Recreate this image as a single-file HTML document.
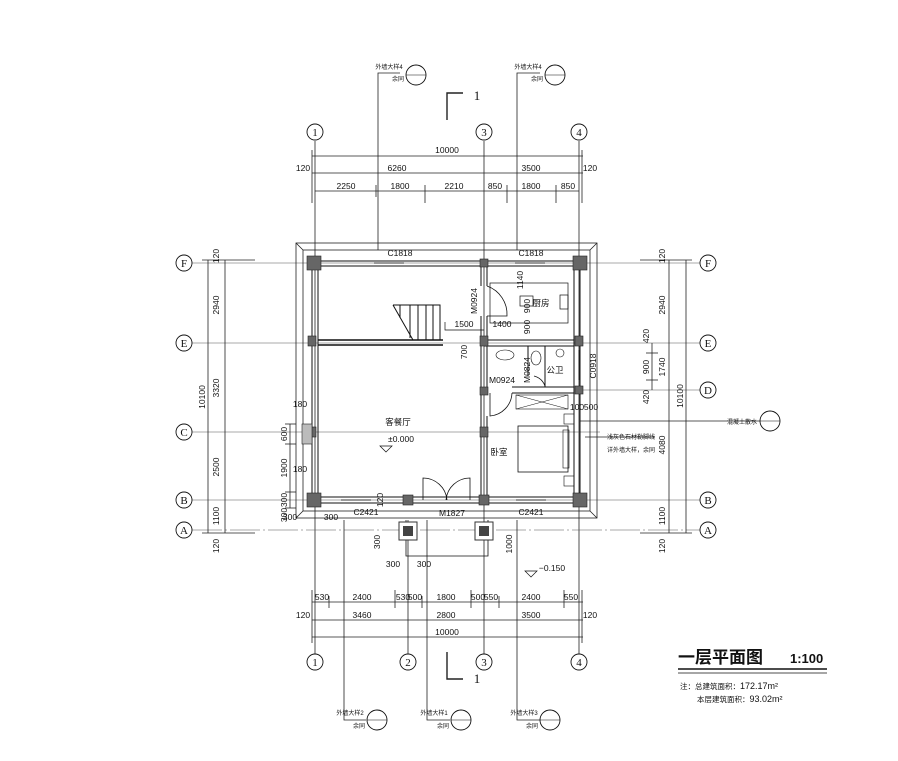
<!DOCTYPE html>
<html><head><meta charset="utf-8"><style>
html,body{margin:0;padding:0;background:#fff;}
svg{display:block;}
text{font-family:"Liberation Sans","Noto Sans CJK SC",sans-serif;fill:#111;}
</style></head><body>
<svg width="898" height="761" viewBox="0 0 898 761" xmlns="http://www.w3.org/2000/svg">
<g stroke="#222" stroke-width="0.8" fill="none">
<!-- vertical grid lines -->
<line x1="315" y1="141" x2="315" y2="654"/>
<line x1="484" y1="141" x2="484" y2="654"/>
<line x1="579" y1="141" x2="579" y2="654"/>
<line x1="408" y1="520" x2="408" y2="654"/>
<!-- horizontal grid lines -->
<line x1="192" y1="263" x2="700" y2="263" stroke="#555" stroke-width="0.6"/>
<line x1="192" y1="343" x2="700" y2="343" stroke="#555" stroke-width="0.6"/>
<line x1="192" y1="432" x2="600" y2="432" stroke="#555" stroke-width="0.6"/>
<line x1="192" y1="500" x2="700" y2="500" stroke="#555" stroke-width="0.6"/>
<line x1="192" y1="530" x2="700" y2="530" stroke="#555" stroke-width="0.6" stroke-dasharray="30 3 2 3"/>
<line x1="580" y1="390" x2="700" y2="390" stroke="#555" stroke-width="0.6"/>
<!-- leader lines top -->
<polyline points="378,250 378,73 400,73"/>
<polyline points="517,250 517,73 540,73"/>
<!-- leader lines bottom -->
<polyline points="344,520 344,720 366,720"/>
<polyline points="427,520 427,720 450,720"/>
<polyline points="517,520 517,720 540,720"/>
<!-- section marks -->
<polyline points="447,120 447,93 463,93" stroke-width="1.4"/>
<polyline points="447,652 447,679 463,679" stroke-width="1.4"/>
<!-- top dims -->
<line x1="312" y1="156" x2="583" y2="156"/>
<line x1="312" y1="173" x2="583" y2="173"/>
<line x1="315" y1="191" x2="579" y2="191"/>
<line x1="312" y1="150" x2="312" y2="203"/><line x1="582" y1="150" x2="582" y2="203"/>
<line x1="376" y1="185" x2="376" y2="197"/><line x1="425" y1="185" x2="425" y2="203"/>
<line x1="507" y1="185" x2="507" y2="203"/><line x1="556" y1="185" x2="556" y2="203"/>
<!-- bottom dims -->
<line x1="312" y1="602" x2="583" y2="602"/>
<line x1="312" y1="620" x2="583" y2="620"/>
<line x1="312" y1="637" x2="583" y2="637"/>
<line x1="312" y1="590" x2="312" y2="643"/><line x1="582" y1="590" x2="582" y2="643"/>
<line x1="329" y1="596" x2="329" y2="608"/><line x1="395" y1="590" x2="395" y2="608"/>
<line x1="422" y1="596" x2="422" y2="608"/><line x1="471" y1="590" x2="471" y2="608"/>
<line x1="499" y1="596" x2="499" y2="608"/><line x1="564" y1="590" x2="564" y2="608"/>
<!-- left dims -->
<line x1="208" y1="260" x2="208" y2="533"/>
<line x1="225" y1="260" x2="225" y2="533"/>
<line x1="202" y1="260" x2="255" y2="260"/><line x1="202" y1="533" x2="255" y2="533"/>
<line x1="290" y1="424" x2="290" y2="508"/>
<line x1="285" y1="424" x2="296" y2="424"/><line x1="285" y1="444" x2="296" y2="444"/>
<line x1="285" y1="492" x2="296" y2="492"/><line x1="285" y1="508" x2="296" y2="508"/>
<!-- right dims -->
<line x1="669" y1="260" x2="669" y2="533"/>
<line x1="686" y1="260" x2="686" y2="533"/>
<line x1="652" y1="343" x2="652" y2="390"/>
<line x1="640" y1="260" x2="692" y2="260"/><line x1="640" y1="533" x2="692" y2="533"/>
<line x1="646" y1="353" x2="658" y2="353"/><line x1="646" y1="380" x2="658" y2="380"/>
<line x1="580" y1="421" x2="775" y2="421"/>
<line x1="585" y1="437" x2="655" y2="437"/>
<!-- outer ornamental border -->
<rect x="296" y="243" width="301" height="275"/>
<rect x="303" y="250" width="287" height="261"/>
<line x1="296" y1="243" x2="303" y2="250"/><line x1="597" y1="243" x2="590" y2="250"/>
<line x1="296" y1="518" x2="303" y2="511"/><line x1="597" y1="518" x2="590" y2="511"/>
</g>
<!-- walls -->
<g stroke="#111" stroke-width="1" fill="none">
<rect x="312" y="261" width="268" height="242"/>
<rect x="318" y="266" width="256" height="231"/>
<line x1="318" y1="340" x2="443" y2="340" stroke-width="1.6"/>
<line x1="318" y1="345" x2="443" y2="345" stroke-width="1.6"/>
<line x1="481" y1="266" x2="481" y2="286"/><line x1="487" y1="266" x2="487" y2="286"/>
<line x1="481" y1="316" x2="481" y2="497"/><line x1="487" y1="316" x2="487" y2="390"/>
<line x1="487" y1="416" x2="487" y2="497"/>
<line x1="484" y1="340" x2="574" y2="340"/><line x1="484" y1="346" x2="574" y2="346"/>
<line x1="512" y1="387" x2="574" y2="387"/><line x1="512" y1="393" x2="574" y2="393"/>
<line x1="528" y1="346" x2="528" y2="376"/><line x1="545" y1="346" x2="545" y2="387"/>
<!-- stair -->
<polyline points="393,305 440,305 440,340"/>
<polyline points="393,305 413,340"/>
<line x1="400" y1="305" x2="400" y2="318"/><line x1="410" y1="305" x2="410" y2="338"/>
<line x1="418" y1="305" x2="418" y2="340"/><line x1="426" y1="305" x2="426" y2="340"/>
<line x1="433" y1="305" x2="433" y2="340"/>
<polyline points="445,322 445,330 484,330" stroke-width="0.7"/>
<!-- kitchen counter -->
<rect x="490" y="283" width="78" height="40" stroke-width="0.7"/>
<rect x="520" y="296" width="13" height="10" stroke-width="0.7"/>
<rect x="560" y="295" width="8" height="14" stroke-width="0.7"/>
<!-- door arcs -->
<path d="M487 286 A30 30 0 0 1 507 316 L487 316" stroke-width="0.8"/>
<path d="M490 393 L490 416 A24 24 0 0 0 512 393" stroke-width="0.8"/>
<path d="M534 376 A16 16 0 0 1 545 386" stroke-width="0.8"/>
<!-- bathroom fixtures -->
<ellipse cx="505" cy="355" rx="9" ry="5" stroke-width="0.6"/>
<ellipse cx="536" cy="358" rx="5" ry="7" stroke-width="0.6"/>
<circle cx="560" cy="353" r="4" stroke-width="0.6"/>
<!-- wardrobe -->
<rect x="516" y="395" width="52" height="14" stroke-width="0.6"/>
<line x1="516" y1="395" x2="568" y2="409" stroke-width="0.5"/><line x1="516" y1="409" x2="568" y2="395" stroke-width="0.5"/>
<!-- bed -->
<rect x="518" y="426" width="50" height="46" stroke-width="0.8"/>
<rect x="563" y="430" width="6" height="38" stroke-width="0.6"/>
<rect x="564" y="414" width="10" height="10" stroke-width="0.6"/>
<rect x="564" y="476" width="10" height="10" stroke-width="0.6"/>
<!-- entrance door -->
<path d="M423 500 L423 478 A24 24 0 0 1 447 500" stroke-width="0.8"/>
<path d="M470 500 L470 478 A24 24 0 0 0 446 500" stroke-width="0.8"/>
<!-- porch -->
<polyline points="406,520 406,556 488,556 488,520" stroke-width="0.8"/>
<!-- windows -->
<g stroke-width="0.7">
<line x1="374" y1="263" x2="404" y2="263"/><line x1="515" y1="263" x2="545" y2="263"/>
<line x1="341" y1="500" x2="371" y2="500"/><line x1="516" y1="500" x2="546" y2="500"/>
<line x1="579" y1="350" x2="579" y2="380"/>
</g>
</g>
<!-- columns -->
<g fill="#666" stroke="#222" stroke-width="0.6">
<rect x="307" y="256" width="14" height="14"/><rect x="573" y="256" width="14" height="14"/>
<rect x="307" y="493" width="14" height="14"/><rect x="573" y="493" width="14" height="14"/>
<rect x="308" y="336" width="8" height="10"/><rect x="480" y="336" width="8" height="10"/>
<rect x="575" y="336" width="8" height="10"/><rect x="308" y="427" width="8" height="10"/>
<rect x="480" y="259" width="8" height="8"/><rect x="480" y="387" width="8" height="8"/>
<rect x="575" y="386" width="8" height="8"/><rect x="480" y="427" width="8" height="10"/>
<rect x="403" y="495" width="10" height="10"/><rect x="479" y="495" width="10" height="10"/>
<rect x="302" y="424" width="10" height="20" fill="#bbb"/>
</g>
<g fill="#fff" stroke="#333" stroke-width="1">
<rect x="399" y="522" width="18" height="18"/><rect x="475" y="522" width="18" height="18"/>
</g>
<g fill="#444"><rect x="403" y="526" width="10" height="10"/><rect x="479" y="526" width="10" height="10"/></g>
<!-- axis circles -->
<g fill="#fff" stroke="#111" stroke-width="0.9">
<circle cx="315" cy="132" r="8"/><circle cx="484" cy="132" r="8"/><circle cx="579" cy="132" r="8"/>
<circle cx="315" cy="662" r="8"/><circle cx="408" cy="662" r="8"/><circle cx="484" cy="662" r="8"/><circle cx="579" cy="662" r="8"/>
<circle cx="184" cy="263" r="8"/><circle cx="184" cy="343" r="8"/><circle cx="184" cy="432" r="8"/><circle cx="184" cy="500" r="8"/><circle cx="184" cy="530" r="8"/>
<circle cx="708" cy="263" r="8"/><circle cx="708" cy="343" r="8"/><circle cx="708" cy="390" r="8"/><circle cx="708" cy="500" r="8"/><circle cx="708" cy="530" r="8"/>
<circle cx="555" cy="75" r="10"/><circle cx="416" cy="75" r="10"/>
<circle cx="377" cy="720" r="10"/><circle cx="461" cy="720" r="10"/><circle cx="550" cy="720" r="10"/>
<circle cx="770" cy="421" r="10"/>
</g>
<g stroke="#111" stroke-width="0.6">
<line x1="406" y1="75" x2="426" y2="75"/><line x1="545" y1="75" x2="565" y2="75"/>
<line x1="367" y1="720" x2="387" y2="720"/><line x1="451" y1="720" x2="471" y2="720"/><line x1="540" y1="720" x2="560" y2="720"/>
<line x1="760" y1="421" x2="780" y2="421"/>
</g>
<g font-size="11" text-anchor="middle" font-family="Liberation Serif,serif">
<text x="315" y="136" style="font-family:'Liberation Serif',serif">1</text><text x="484" y="136" style="font-family:'Liberation Serif',serif">3</text><text x="579" y="136" style="font-family:'Liberation Serif',serif">4</text>
<text x="315" y="666" style="font-family:'Liberation Serif',serif">1</text><text x="408" y="666" style="font-family:'Liberation Serif',serif">2</text><text x="484" y="666" style="font-family:'Liberation Serif',serif">3</text><text x="579" y="666" style="font-family:'Liberation Serif',serif">4</text>
<text x="184" y="267" style="font-family:'Liberation Serif',serif">F</text><text x="184" y="347" style="font-family:'Liberation Serif',serif">E</text><text x="184" y="436" style="font-family:'Liberation Serif',serif">C</text><text x="184" y="504" style="font-family:'Liberation Serif',serif">B</text><text x="184" y="534" style="font-family:'Liberation Serif',serif">A</text>
<text x="708" y="267" style="font-family:'Liberation Serif',serif">F</text><text x="708" y="347" style="font-family:'Liberation Serif',serif">E</text><text x="708" y="394" style="font-family:'Liberation Serif',serif">D</text><text x="708" y="504" style="font-family:'Liberation Serif',serif">B</text><text x="708" y="534" style="font-family:'Liberation Serif',serif">A</text>
<text x="477" y="100" font-size="13" style="font-family:'Liberation Serif',serif">1</text>
<text x="477" y="683" font-size="13" style="font-family:'Liberation Serif',serif">1</text>
</g>
<g font-size="8.5" text-anchor="middle">
<text x="447" y="153">10000</text>
<text x="303" y="171">120</text><text x="397" y="171">6260</text><text x="531" y="171">3500</text><text x="590" y="171">120</text>
<text x="346" y="189">2250</text><text x="400" y="189">1800</text><text x="454" y="189">2210</text><text x="495" y="189">850</text><text x="531" y="189">1800</text><text x="568" y="189">850</text>
<text x="322" y="600">530</text><text x="362" y="600">2400</text><text x="403" y="600">530</text><text x="415" y="600">500</text><text x="446" y="600">1800</text><text x="478" y="600">500</text><text x="491" y="600">550</text><text x="531" y="600">2400</text><text x="571" y="600">550</text>
<text x="303" y="618">120</text><text x="362" y="618">3460</text><text x="446" y="618">2800</text><text x="531" y="618">3500</text><text x="590" y="618">120</text>
<text x="447" y="635">10000</text>
<text x="400" y="256">C1818</text><text x="531" y="256">C1818</text>
<text x="366" y="515">C2421</text><text x="531" y="515">C2421</text>
<text x="452" y="516">M1827</text><text x="502" y="383">M0924</text>
<text x="464" y="327">1500</text><text x="502" y="327">1400</text>
<text x="398" y="425">客餐厅</text><text x="401" y="442">±0.000</text>
<text x="499" y="455">卧室</text><text x="541" y="306">厨房</text><text x="555" y="373">公卫</text>
<text x="290" y="520">300</text><text x="331" y="520">300</text>
<text x="393" y="567">300</text><text x="424" y="567">300</text>
<text x="300" y="407">180</text><text x="300" y="472">180</text>
<text x="577" y="410">100</text><text x="591" y="410">500</text>
<text x="552" y="571">−0.150</text>
<text x="631" y="439" font-size="6">浅灰色石材勒脚线</text>
<text x="631" y="452" font-size="6">详外墙大样，余同</text>
<text x="742" y="424" font-size="6">混凝土散水</text>
<text x="389" y="69" font-size="6">外墙大样4</text><text x="528" y="69" font-size="6">外墙大样4</text>
<text x="398" y="81" font-size="6">余同</text><text x="537" y="81" font-size="6">余同</text>
<text x="350" y="715" font-size="6">外墙大样2</text><text x="434" y="715" font-size="6">外墙大样1</text><text x="524" y="715" font-size="6">外墙大样3</text>
<text x="359" y="728" font-size="6">余同</text><text x="443" y="728" font-size="6">余同</text><text x="532" y="728" font-size="6">余同</text>
</g>
<g font-size="8.5" text-anchor="middle">
<text transform="translate(219,256) rotate(-90)">120</text>
<text transform="translate(219,305) rotate(-90)">2940</text>
<text transform="translate(219,388) rotate(-90)">3320</text>
<text transform="translate(219,467) rotate(-90)">2500</text>
<text transform="translate(219,516) rotate(-90)">1100</text>
<text transform="translate(219,546) rotate(-90)">120</text>
<text transform="translate(205,397) rotate(-90)">10100</text>
<text transform="translate(287,434) rotate(-90)">600</text>
<text transform="translate(287,468) rotate(-90)">1900</text>
<text transform="translate(287,500) rotate(-90)">300</text>
<text transform="translate(287,515) rotate(-90)">300</text>
<text transform="translate(665,256) rotate(-90)">120</text>
<text transform="translate(665,305) rotate(-90)">2940</text>
<text transform="translate(649,336) rotate(-90)">420</text>
<text transform="translate(649,367) rotate(-90)">900</text>
<text transform="translate(665,367) rotate(-90)">1740</text>
<text transform="translate(649,397) rotate(-90)">420</text>
<text transform="translate(683,396) rotate(-90)">10100</text>
<text transform="translate(665,445) rotate(-90)">4080</text>
<text transform="translate(665,516) rotate(-90)">1100</text>
<text transform="translate(665,546) rotate(-90)">120</text>
<text transform="translate(477,301) rotate(-90)">M0924</text>
<text transform="translate(523,280) rotate(-90)">1140</text>
<text transform="translate(530,306) rotate(-90)">900</text>
<text transform="translate(530,327) rotate(-90)">900</text>
<text transform="translate(467,352) rotate(-90)">700</text>
<text transform="translate(530,370) rotate(-90)">M0824</text>
<text transform="translate(596,366) rotate(-90)">C0918</text>
<text transform="translate(383,500) rotate(-90)">120</text>
<text transform="translate(380,542) rotate(-90)">300</text>
<text transform="translate(512,544) rotate(-90)">1000</text>
</g>
<path d="M380 446 L392 446 L386 452 Z" fill="none" stroke="#111" stroke-width="0.7"/>
<path d="M525 571 L537 571 L531 577 Z" fill="none" stroke="#111" stroke-width="0.7"/>
<!-- title -->
<text x="678" y="663" font-size="17" font-weight="bold">一层平面图</text>
<text x="790" y="663" font-size="13" font-weight="bold">1:100</text>
<line x1="678" y1="669" x2="827" y2="669" stroke="#111" stroke-width="1.6"/>
<line x1="678" y1="673" x2="827" y2="673" stroke="#111" stroke-width="0.7"/>
<text x="680" y="689" font-size="7.5">注：总建筑面积：<tspan font-size="9">172.17m²</tspan></text>
<text x="697" y="702" font-size="7.5">本层建筑面积：<tspan font-size="9">93.02m²</tspan></text>
</svg>
</body></html>
